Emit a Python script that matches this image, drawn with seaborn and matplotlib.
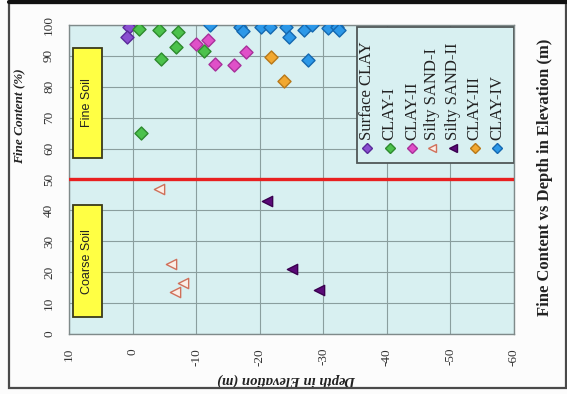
import matplotlib
matplotlib.use("Agg")
import matplotlib.pyplot as plt
import seaborn as sns
import pandas as pd
from matplotlib.patches import Rectangle

# Depth in elevation (m) and fine content (%) per soil layer
surface_depth = [0.6, 0.9]
surface_fc = [99.5, 96.0]
clay1_depth = [-1.0, -4.1, -7.1, -6.9, -4.4, -11.3, -1.4]
clay1_fc = [98.6, 98.4, 97.6, 92.8, 88.9, 91.7, 65.1]
clay2_depth = [-9.9, -11.8, -13.0, -15.9, -17.9]
clay2_fc = [93.8, 95.1, 87.3, 86.9, 91.1]
sand1_depth = [-4.1, -6.0, -8.0, -6.7]
sand1_fc = [46.8, 22.7, 16.4, 13.7]
sand2_depth = [-21.2, -25.1, -29.3]
sand2_fc = [43.0, 20.9, 14.2]
clay3_depth = [-21.8, -23.8]
clay3_fc = [89.5, 82.0]
clay4_depth = [-12.2, -16.9, -17.4, -20.2, -21.6, -24.2, -24.6, -26.9, -28.3, -30.7, -32.1, -32.5, -27.6]
clay4_fc = [100.0, 99.5, 97.9, 99.2, 99.5, 99.5, 96.0, 98.4, 100.0, 99.0, 99.5, 98.5, 88.7]

series_names = ["Surface CLAY", "CLAY-I", "CLAY-II", "Silty SAND-I",
                "Silty SAND-II", "CLAY-III", "CLAY-IV"]
series_depth = [surface_depth, clay1_depth, clay2_depth, sand1_depth,
                sand2_depth, clay3_depth, clay4_depth]
series_fc = [surface_fc, clay1_fc, clay2_fc, sand1_fc, sand2_fc, clay3_fc, clay4_fc]

# style per series: marker, face, edge
styles = {
    "Surface CLAY": ("D", "#8a4fd0", "#5a2a9a"),
    "CLAY-I": ("D", "#4cc24c", "#2e8a2e"),
    "CLAY-II": ("D", "#e050c8", "#a8309a"),
    "Silty SAND-I": ("<", "#fbeee6", "#d0705a"),
    "Silty SAND-II": ("<", "#5a0a78", "#3a0050"),
    "CLAY-III": ("D", "#f2a830", "#b87818"),
    "CLAY-IV": ("D", "#2c98e8", "#1468b0"),
}

threshold = 50
fine_label = "Fine Soil"
coarse_label = "Coarse Soil"

sns.set_style("white")
plt.rcParams["font.family"] = ["Liberation Serif", "DejaVu Serif"]
plt.rcParams["axes.unicode_minus"] = False

fig = plt.figure(figsize=(5.67, 3.94), dpi=100, facecolor="#fcfcfc")
ax = fig.add_axes([0.1217, 0.1523, 0.7848, 0.7843])
ax.set_facecolor("#d8f0f1")

for name, d, f in zip(series_names, series_depth, series_fc):
    mk, fc, ec = styles[name]
    df = pd.DataFrame({"depth": d, "fc": f})
    sns.scatterplot(data=df, x="depth", y="fc", marker=mk, color=fc,
                    edgecolor=ec, linewidth=1.0, s=44 if mk == "D" else 55,
                    ax=ax, zorder=4, legend=False)

ax.axhline(threshold, color="#e82020", lw=2.4, zorder=3)

ax.set_xlim(10, -60)
ax.set_ylim(0, 100)
ax.set_xticks(range(10, -61, -10))
ax.set_yticks(range(0, 101, 10))
ax.grid(True, color="#8a9e9e", lw=0.8)
ax.set_axisbelow(True)
for s in ax.spines.values():
    s.set_color("#7f8a8a")
    s.set_linewidth(1.0)
ax.tick_params(axis="both", direction="out", length=4, color="#8a8a8a",
               labelsize=9.5, labelcolor="#333333", pad=6)
for lbl in ax.get_xticklabels():
    lbl.set_rotation(90)
for lbl in ax.get_yticklabels():
    lbl.set_rotation(90)
    lbl.set_va("center")

ax.set_xlabel("Depth in Elevation (m)", fontsize=10.5, fontweight="bold",
              fontstyle="italic", rotation=180, color="#222222")
ax.xaxis.set_label_coords(0.49, -0.125)
ax.set_ylabel("Fine Content (%)", fontsize=9.5, fontweight="bold",
              fontstyle="italic", color="#222222")
ax.yaxis.set_label_coords(-0.099, 0.705)
fig.text(0.962, 0.55, "Fine Content vs Depth in Elevation (m)", rotation=90,
         ha="center", va="center", fontsize=12, fontweight="bold", color="#222222")

# yellow soil-type boxes
for (y0, y1), txt in [((0.570, 0.926), fine_label), ((0.055, 0.417), coarse_label)]:
    ax.add_patch(Rectangle((0.009, y0), 0.065, y1 - y0, transform=ax.transAxes,
                           facecolor="#ffff44", edgecolor="#3a3a1a", lw=1.3, zorder=5))
    ax.text(0.0415, (y0 + y1) / 2, txt, transform=ax.transAxes, rotation=90,
            ha="center", va="center", fontsize=9, family="Liberation Sans",
            color="#222222", zorder=6)

# rotated legend
ax.add_patch(Rectangle((0.647, 0.553), 0.353, 0.441, transform=ax.transAxes,
                       facecolor="#d8f0f1", edgecolor="#505858", lw=1.3, zorder=5))
leg_x = [0.670, 0.721, 0.771, 0.816, 0.863, 0.912, 0.962]
for x, name in zip(leg_x, series_names):
    mk, fc, ec = styles[name]
    ax.plot([x], [0.602], marker=mk, ms=5.5, mfc=fc, mec=ec, mew=1.0,
            transform=ax.transAxes, zorder=6, ls="none")
    ax.text(x, 0.628, name, transform=ax.transAxes, rotation=90, ha="center",
            va="bottom", fontsize=12, color="#222222", zorder=6)

# picture frame
fig.add_artist(Rectangle((0.016, 0.014), 0.982, 0.978, transform=fig.transFigure,
                         fill=False, edgecolor="#4a4a4a", lw=1.6))
fig.add_artist(plt.Line2D([0.016, 1.0], [0.994, 0.994], transform=fig.transFigure,
                          color="#111111", lw=3))

fig.savefig("out.png", dpi=100, facecolor=fig.get_facecolor())
